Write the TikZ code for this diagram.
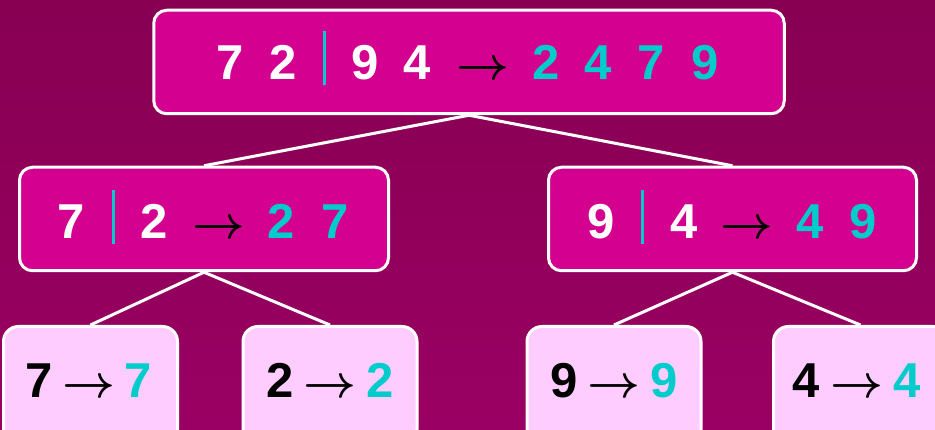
\documentclass[tikz,border=0pt]{standalone}
\usepackage{amsmath}
\usepackage{fontspec}
\setmainfont{Liberation Sans}
\definecolor{bgtop}{HTML}{870052}
\definecolor{bgbot}{HTML}{9A0063}
\definecolor{mergefill}{HTML}{D4008F}
\definecolor{leaffill}{HTML}{FFCCFF}
\definecolor{sorted}{HTML}{00CCCC}
\begin{document}
\begin{tikzpicture}[x=1pt,y=-1pt,
  box/.style={draw=white, line width=3pt, rounded corners=13pt, inner sep=0pt},
  mergebox/.style={box, fill=mergefill, minimum height=103.5pt},
  leafbox/.style={box, fill=leaffill, rounded corners=15pt,
                  minimum width=174pt, minimum height=118pt},
  num/.style={font=\bfseries\fontsize{49}{49}\selectfont, anchor=base, inner sep=0pt},
  unsorted/.style={num, text=white},
  done/.style={num, text=sorted},
  raw/.style={num, text=black},
  arr/.style={font=\normalsize, scale=4.6, anchor=base, inner sep=0pt, text=black},
  divider/.style={fill=sorted, inner sep=0pt, minimum width=3pt, minimum height=54pt},
  link/.style={draw=white, line width=3pt}
]
\useasboundingbox (0,0) rectangle (935,430);
\clip (0,0) rectangle (935,430);
\shade[top color=bgtop, bottom color=bgbot] (0,0) rectangle (935,430);

% boxes of the merge-sort tree
\node[mergebox, minimum width=630.5pt] (root) at (469,62) {};
\node[mergebox, minimum width=369pt] (left) at (204,219) {};
\node[mergebox, minimum width=368pt] (right) at (732.5,219) {};
\node[leafbox] (leaf7) at (90.5,385.5) {};
\node[leafbox] (leaf2) at (330,385.5) {};
\node[leafbox] (leaf9) at (614,385.5) {};
\node[leafbox] (leaf4) at (860.5,385.5) {};

% tree edges
\draw[link] (root.south) -- (left.north);
\draw[link] (root.south) -- (right.north);
\draw[link] (left.south) -- (leaf7.north);
\draw[link] (left.south) -- (leaf2.north);
\draw[link] (right.south) -- (leaf9.north);
\draw[link] (right.south) -- (leaf4.north);

% root: 7 2 | 9 4 -> 2 4 7 9
\foreach \x/\d [count=\i] in {230.5/7, 283/2, 365/9, 417.5/4}
  \node[unsorted] (root-in\i) at (\x,80) {\d};
\node[divider] (root-div) at (324,58) {};
\node[arr] (root-arr) at (483,80) {$\boldsymbol{\rightarrow}$};
\foreach \x/\d [count=\i] in {546/2, 598.5/4, 651.5/7, 705/9}
  \node[done] (root-out\i) at (\x,80) {\d};

% left half: 7 | 2 -> 2 7
\node[unsorted] (left-in1) at (71.5,239) {7};
\node[divider] (left-div) at (113,217.5) {};
\node[unsorted] (left-in2) at (154.5,239) {2};
\node[arr] (left-arr) at (218.5,239) {$\boldsymbol{\rightarrow}$};
\node[done] (left-out1) at (281.5,239) {2};
\node[done] (left-out2) at (335,239) {7};

% right half: 9 | 4 -> 4 9
\node[unsorted] (right-in1) at (601,239) {9};
\node[divider] (right-div) at (642,217.5) {};
\node[unsorted] (right-in2) at (684,239) {4};
\node[arr] (right-arr) at (747,239) {$\boldsymbol{\rightarrow}$};
\node[done] (right-out1) at (810,239) {4};
\node[done] (right-out2) at (863,239) {9};

% single-element leaves
\foreach \n/\a/\b/\c/\d in {leaf7/39/89/138/7, leaf2/280/330/380/2,
                            leaf9/564/614/664/9, leaf4/806.5/857/907/4} {
  \node[raw] (\n-in) at (\a,398) {\d};
  \node[arr] (\n-arr) at (\b,398) {$\boldsymbol{\rightarrow}$};
  \node[done] (\n-out) at (\c,398) {\d};
}
\end{tikzpicture}
\end{document}
